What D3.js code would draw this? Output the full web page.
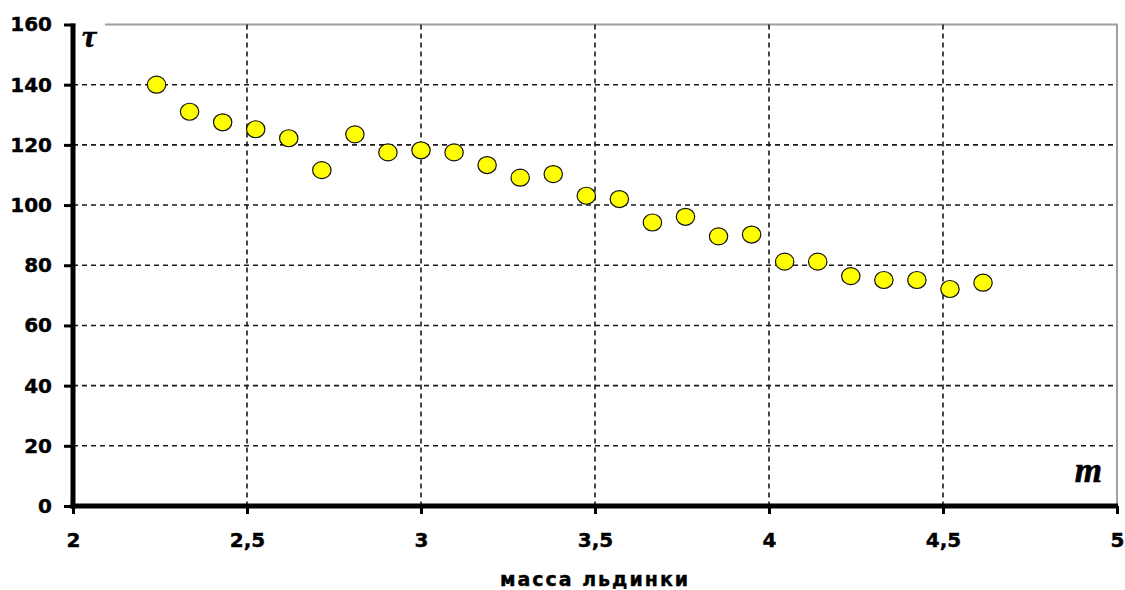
<!DOCTYPE html>
<html>
<head>
<meta charset="utf-8">
<script src="https://cdn.jsdelivr.net/npm/d3@7"></script>
<style>
  html, body { margin: 0; padding: 0; background: #fff; }
  svg { display: block; }
  .tick text { font-family: "DejaVu Sans", sans-serif; font-weight: bold; font-size: 20px; fill: #000; }
</style>
</head>
<body>
<svg id="chart" width="1125" height="590"></svg>
<script>
// Ice mass (m) vs. melting time (τ)
const massValues = [2.24, 2.335, 2.43, 2.525, 2.62, 2.715, 2.81, 2.905, 3.0, 3.095, 3.19, 3.285, 3.38,
                    3.475, 3.57, 3.665, 3.76, 3.855, 3.95, 4.045, 4.14, 4.235, 4.33, 4.425, 4.52, 4.615];
const timeValues = [140, 131, 127.5, 125.2, 122.2, 111.6, 123.5, 117.5, 118.2, 117.5, 113.3, 109.1, 110.3,
                    103.1, 102, 94.2, 96.1, 89.6, 90.2, 81.2, 81.2, 76.4, 75.1, 75.1, 72.1, 74.2];
const xTicks = [2, 2.5, 3, 3.5, 4, 4.5, 5];
const yTicks = [0, 20, 40, 60, 80, 100, 120, 140, 160];
const xTitle = "масса льдинки";
const xSymbol = "m";
const ySymbol = "τ";

const svg = d3.select("#chart");
const x = d3.scaleLinear().domain([2, 5]).range([73, 1117]);
const y = d3.scaleLinear().domain([0, 160]).range([506, 24.5]);
const ruFormat = d3.formatLocale({ decimal: ",", thousands: " ", grouping: [3], currency: ["", ""] }).format("~g");

// plot frame (top and right edges)
svg.append("path")
  .attr("d", `M${x(2)},${y(160)}H${x(5)}V${y(0)}`)
  .attr("fill", "none").attr("stroke", "#a0a0a0").attr("stroke-width", 2);

// dashed grid
const grid = svg.append("g").attr("stroke", "#1a1a1a").attr("stroke-width", 1.6).attr("stroke-dasharray", "5,4");
grid.selectAll("line.h").data(yTicks.filter(d => d > 0 && d < 160)).join("line")
  .attr("x1", x(2)).attr("x2", x(5)).attr("y1", d => y(d)).attr("y2", d => y(d));
grid.selectAll("line.v").data(xTicks.filter(d => d > 2 && d < 5)).join("line")
  .attr("y1", y(160)).attr("y2", y(0)).attr("x1", d => x(d)).attr("x2", d => x(d));

// axis symbols with white backing
const tauG = svg.append("g");
tauG.append("rect").attr("x", x(2) + 3).attr("y", y(160) - 2).attr("width", 29).attr("height", 26).attr("fill", "#fff");
tauG.append("text").attr("x", x(2) + 9).attr("y", y(160) + 22)
  .attr("font-family", "Liberation Serif, serif").attr("font-style", "italic").attr("font-weight", "bold")
  .attr("font-size", 32).attr("stroke", "#000").attr("stroke-width", 0.6).text(ySymbol);
svg.append("text").attr("x", 1102).attr("y", 482).attr("text-anchor", "end")
  .attr("font-family", "Liberation Serif, serif").attr("font-style", "italic").attr("font-weight", "bold")
  .attr("font-size", 35).attr("stroke", "#000").attr("stroke-width", 0.6).text(xSymbol);

// axes
const yAxis = svg.append("g").attr("transform", `translate(${x(2)},0)`)
  .call(d3.axisLeft(y).tickValues(yTicks).tickSize(9).tickSizeOuter(0).tickPadding(12).tickFormat(ruFormat));
const xAxis = svg.append("g").attr("transform", `translate(0,${y(0)})`)
  .call(d3.axisBottom(x).tickValues(xTicks).tickSize(8).tickSizeOuter(0).tickPadding(19).tickFormat(ruFormat));
[yAxis, xAxis].forEach(g => {
  g.select(".domain").attr("stroke", "#000").attr("stroke-width", 5);
  g.selectAll(".tick line").attr("stroke", "#000").attr("stroke-width", 3);
  g.selectAll(".tick text").attr("stroke", "#000").attr("stroke-width", 0.4);
});
yAxis.select(".domain").attr("d", `M0,${y(160) - 1}V${y(0) + 2.5}`);
xAxis.select(".domain").attr("d", `M${x(2) - 2.5},0H${x(5) + 1}`);

// data markers
svg.append("g").selectAll("ellipse").data(massValues.map((m, i) => [m, timeValues[i]])).join("ellipse")
  .attr("cx", d => x(d[0])).attr("cy", d => y(d[1]))
  .attr("rx", 9.2).attr("ry", 8.5)
  .attr("fill", "#ffff00").attr("stroke", "#111").attr("stroke-width", 1.2);

// x title
svg.append("text").attr("x", (x(2) + x(5)) / 2).attr("y", 586).attr("text-anchor", "middle")
  .attr("font-family", "DejaVu Sans, sans-serif").attr("font-weight", "bold").attr("font-size", 19)
  .attr("letter-spacing", 2).attr("stroke", "#000").attr("stroke-width", 0.4).text(xTitle);
</script>
</body>
</html>
